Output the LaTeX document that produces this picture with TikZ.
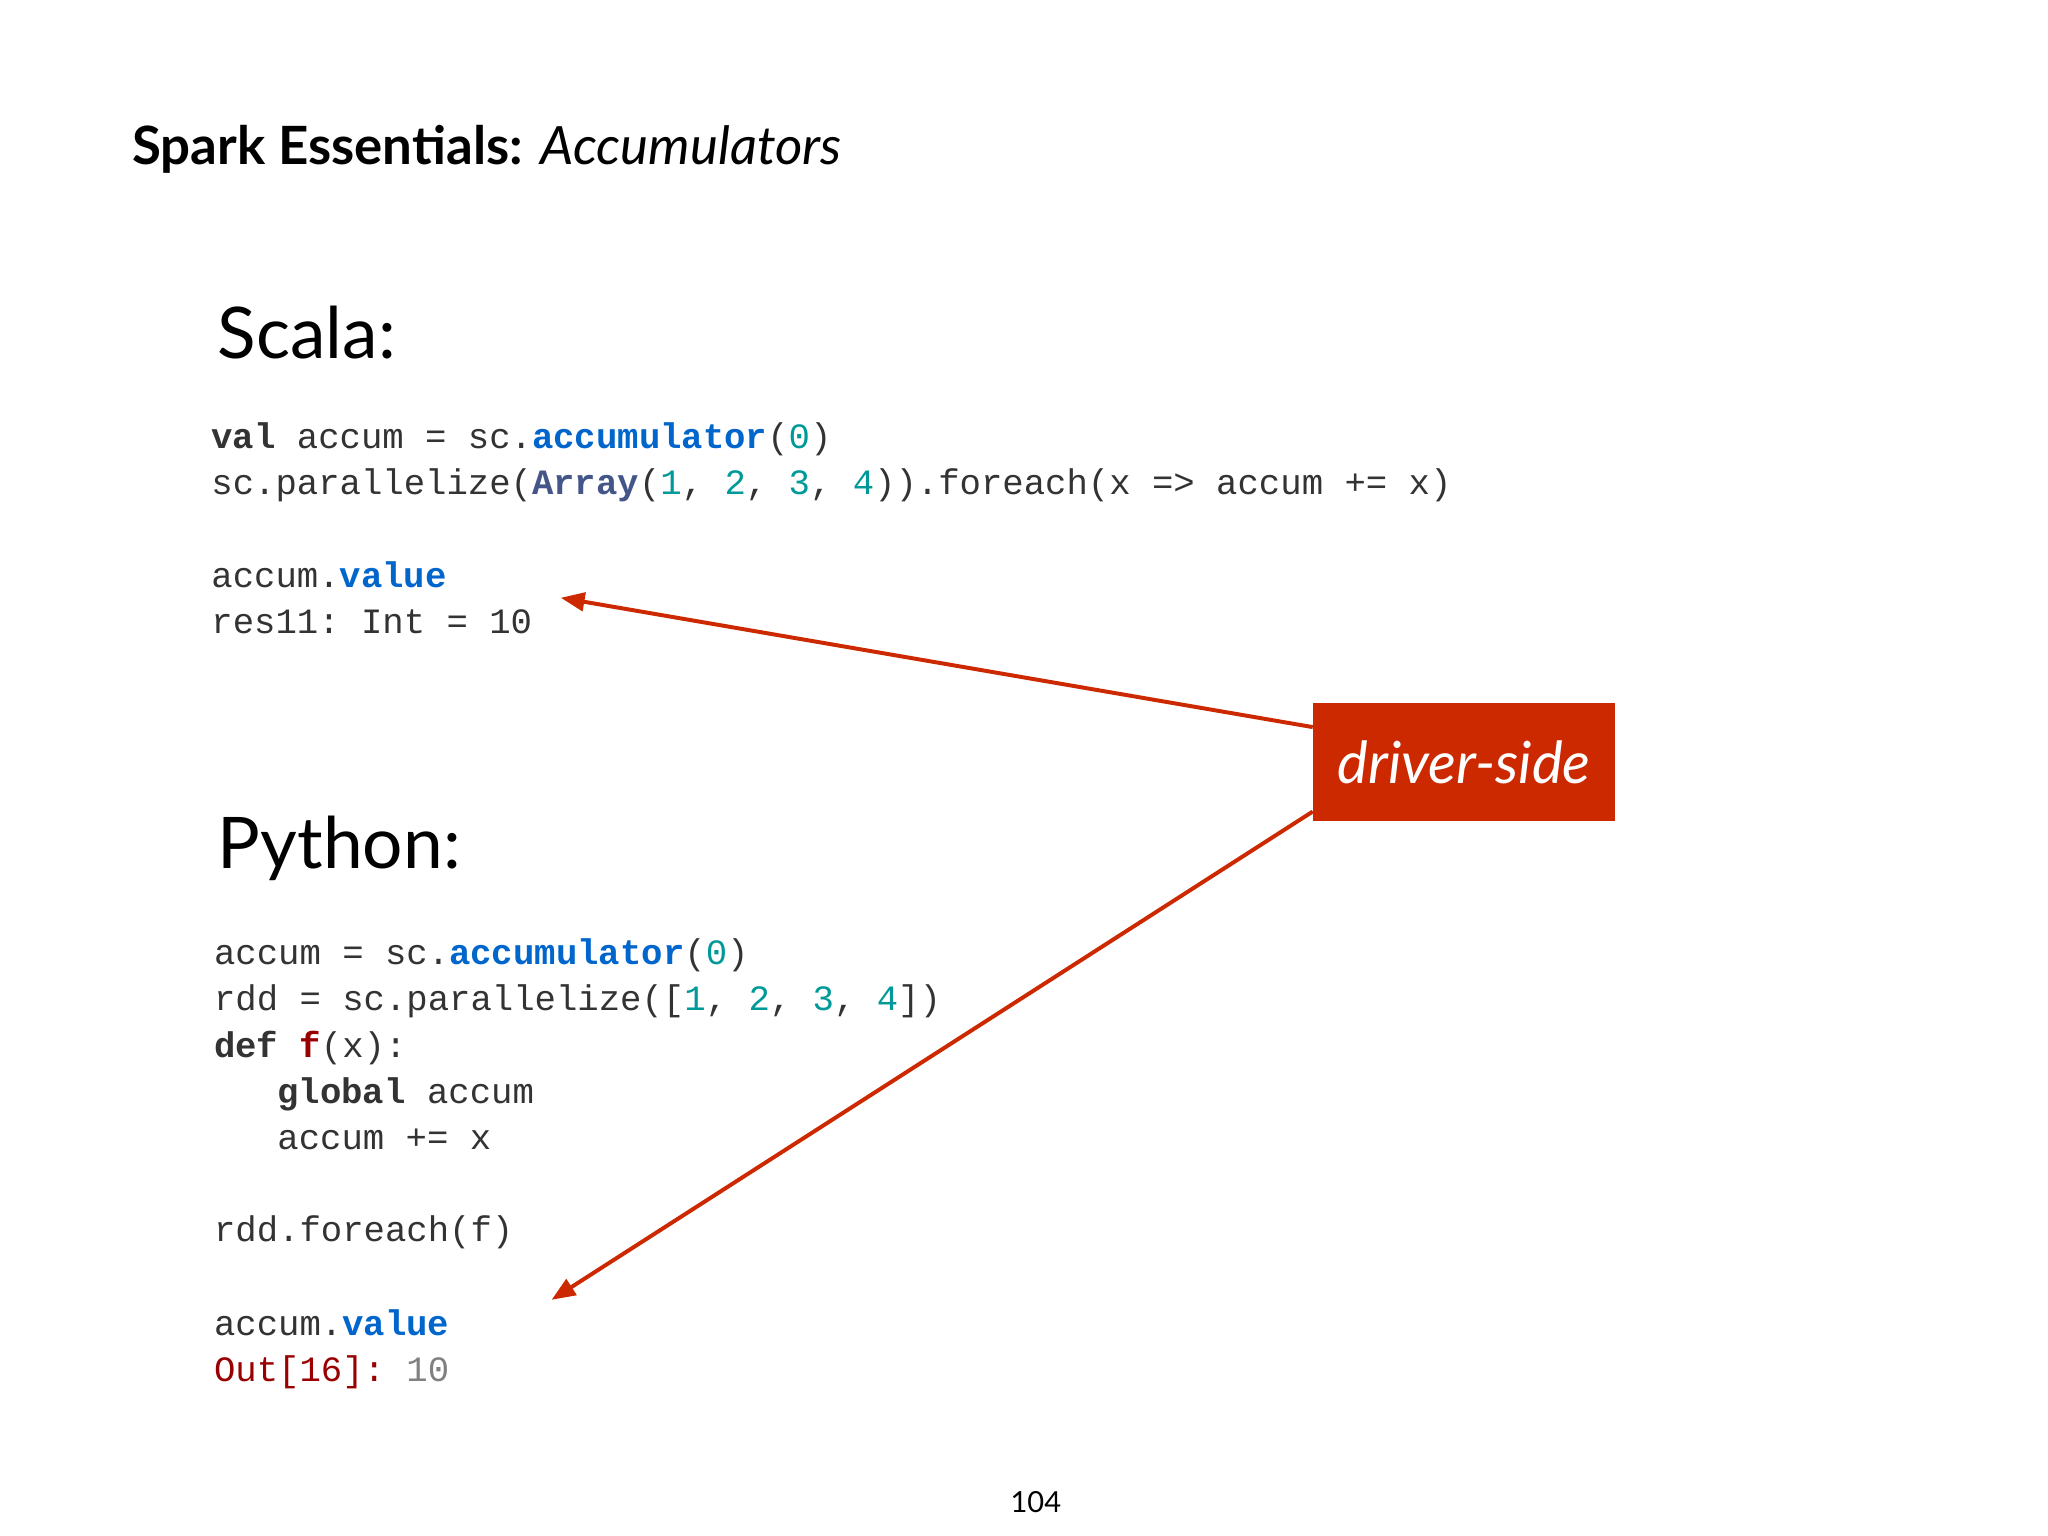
\documentclass[tikz,border=0pt]{standalone}
\usepackage{fontspec}
\setmainfont{Lato}
\setmonofont{Liberation Mono}
\usetikzlibrary{arrows.meta}
\definecolor{kw}{RGB}{0,102,204}
\definecolor{num}{RGB}{0,153,153}
\definecolor{arr}{RGB}{68,85,136}
\definecolor{dred}{RGB}{153,0,0}
\definecolor{txt}{RGB}{51,51,51}
\definecolor{boxred}{RGB}{204,41,0}
\newcommand{\K}[1]{\textbf{\textcolor{kw}{#1}}}
\newcommand{\N}[1]{\textcolor{num}{#1}}
\newcommand{\B}[1]{\textbf{#1}}
\begin{document}
\begin{tikzpicture}[x=1pt,y=-1pt,
  code/.style={anchor=base west,inner sep=0pt,text=txt,font=\ttfamily\fontsize{27}{27}\selectfont},
  head/.style={anchor=base west,inner sep=0pt,font=\fontsize{54}{54}\selectfont},
  arrowline/.style={draw=boxred,line width=3pt,-{Triangle[length=18pt,width=14pt]}}]
\useasboundingbox (0,0) rectangle (1552,1164);
\fill[white] (0,0) rectangle (1552,1164);
\node[anchor=base west,inner sep=0pt,font=\fontsize{40}{40}\selectfont] (title) at (100,125) {\textbf{Spark Essentials:} \textit{Accumulators}};
\node[head] (scala) at (165,272) {Scala:};
\node[code] (s1) at (160,340) {\B{val} accum = sc.\K{accumulator}(\N{0})};
\node[code] (s2) at (160,375) {sc.parallelize(\textbf{\textcolor{arr}{Array}}(\N{1}, \N{2}, \N{3}, \N{4})).foreach(x => accum += x)};
\node[code] (s3) at (160,445) {accum.\K{value}};
\node[code] (s4) at (160,480) {res11: Int = 10};
\node[head] (python) at (165,658) {Python:};
\node[code] (p1) at (162,731) {accum = sc.\K{accumulator}(\N{0})};
\node[code] (p2) at (162,766) {rdd = sc.parallelize([\N{1}, \N{2}, \N{3}, \N{4}])};
\node[code] (p3) at (162,801) {\B{def} \textbf{\textcolor{dred}{f}}(x):};
\node[code] (p4) at (210,836) {\B{global} accum};
\node[code] (p5) at (210,871) {accum += x};
\node[code] (p6) at (162,941) {rdd.foreach(f)};
\node[code] (p7) at (162,1012) {accum.\K{value}};
\node[code] (p8) at (162,1047) {\textcolor{dred}{Out[16]:} \textcolor{gray}{10}};
\node[fill=boxred,text=white,minimum width=229pt,minimum height=89pt,inner sep=0pt,font=\itshape\fontsize{44}{44}\selectfont] (box) at (1109.5,577.5) {driver-side};
\coordinate (t1) at (425,453);
\coordinate (t2) at (418,985);
\draw[arrowline] (box.west |- 0,551) -- (t1);
\draw[arrowline] (box.west |- 0,615) -- (t2);
\node[inner sep=0pt,font=\fontsize{22}{22}\selectfont] (page) at (785,1138) {104};
\end{tikzpicture}
\end{document}
